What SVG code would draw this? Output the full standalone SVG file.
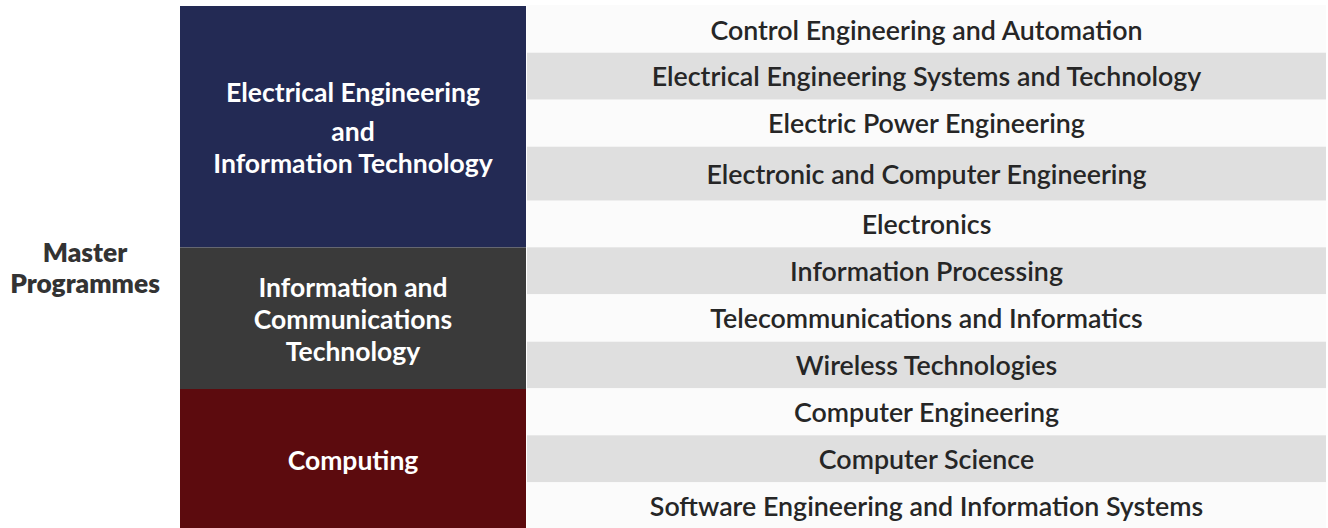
<svg xmlns="http://www.w3.org/2000/svg" width="1328" height="528" viewBox="0 0 1328 528">
<style>
text{font-family:Lato,"Open Sans","Liberation Sans",sans-serif;text-anchor:middle;font-weight:700;}
.blk{fill:#ffffff;font-size:26.5px;}
.prog{fill:#262626;font-size:26.8px;font-weight:600;}
.lab{fill:#333333;font-size:26.3px;font-weight:800;}
.w{fill:#fbfbfb;}
.g{fill:#dfdfdf;}
</style>
<rect x="0" y="0" width="1328" height="528" fill="#ffffff"/>
<g id="label">
<text class="lab" x="85" y="262">Master</text>
<text class="lab" x="85" y="293">Programmes</text>
</g>
<g id="eeit">
<rect x="180" y="6" width="346" height="241.5" fill="#232a54"/>
<text class="blk" x="353" y="102">Electrical Engineering</text>
<text class="blk" x="353" y="141">and</text>
<text class="blk" x="353" y="173">Information Technology</text>
</g>
<g id="ict">
<rect x="180" y="247.5" width="346" height="141.5" fill="#3a3a3a"/>
<text class="blk" x="353" y="297">Information and</text>
<text class="blk" x="353" y="329">Communications</text>
<text class="blk" x="353" y="361">Technology</text>
</g>
<g id="computing">
<rect x="180" y="389" width="346" height="139" fill="#5c0b0e"/>
<text class="blk" x="353" y="470">Computing</text>
</g>
<g id="programmes">
<g id="p1"><rect class="w" x="527" y="5" width="799" height="47.7"/><text class="prog" x="926.5" y="39.5">Control Engineering and Automation</text></g>
<g id="p2"><rect class="g" x="527" y="52.7" width="799" height="47"/><text class="prog" x="926.5" y="86">Electrical Engineering Systems and Technology</text></g>
<g id="p3"><rect class="w" x="527" y="99.7" width="799" height="47"/><text class="prog" x="926.5" y="133">Electric Power Engineering</text></g>
<g id="p4"><rect class="g" x="527" y="146.7" width="799" height="54"/><text class="prog" x="926.5" y="183.5">Electronic and Computer Engineering</text></g>
<g id="p5"><rect class="w" x="527" y="200.7" width="799" height="46.6"/><text class="prog" x="926.5" y="234">Electronics</text></g>
<g id="p6"><rect class="g" x="527" y="247.3" width="799" height="47"/><text class="prog" x="926.5" y="280.5">Information Processing</text></g>
<g id="p7"><rect class="w" x="527" y="294.3" width="799" height="47.4"/><text class="prog" x="926.5" y="328">Telecommunications and Informatics</text></g>
<g id="p8"><rect class="g" x="527" y="341.7" width="799" height="46.6"/><text class="prog" x="926.5" y="375">Wireless Technologies</text></g>
<g id="p9"><rect class="w" x="527" y="388.3" width="799" height="47"/><text class="prog" x="926.5" y="421.5">Computer Engineering</text></g>
<g id="p10"><rect class="g" x="527" y="435.3" width="799" height="47"/><text class="prog" x="926.5" y="468.5">Computer Science</text></g>
<g id="p11"><rect class="w" x="527" y="482.3" width="799" height="45.7"/><text class="prog" x="926.5" y="516">Software Engineering and Information Systems</text></g>
</g>
<g id="connectors"></g>
</svg>
